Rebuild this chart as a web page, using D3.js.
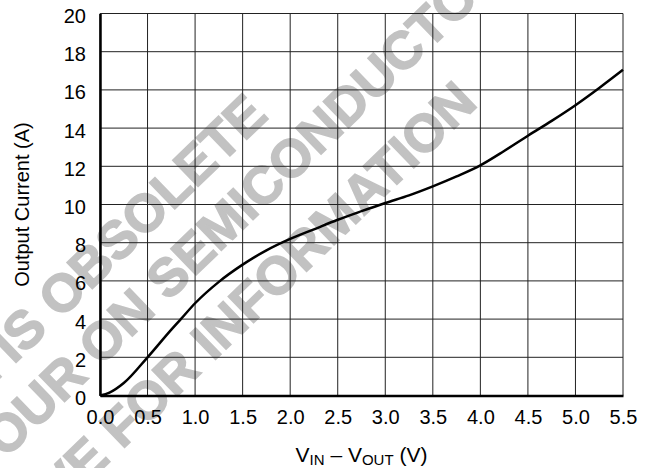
<!DOCTYPE html>
<meta charset="utf-8" />
<html>
<head>
    <script src="https://d3js.org/d3.v7.min.js"></script>
    <style>
        body { margin: 0; background: #fff; }
        svg { display: block; }
        text { font-family: "Liberation Sans", Arial, Helvetica, sans-serif; fill: #000; }
        .grid line { stroke: #222; stroke-width: 1; }
        .wm { font-weight: bold; fill: #c2c2c2; stroke: #c2c2c2; stroke-width: 1.5; }
    </style>
</head>
<body>
<svg width="651" height="468"></svg>
<script>
// data
var vdrop = [0, 0.1, 0.25, 0.5, 0.75, 0.85, 1.0, 1.25, 1.5, 1.75, 2.0, 2.25, 2.5, 2.75, 3.0,
             3.25, 3.5, 3.75, 4.0, 4.25, 4.5, 4.75, 5.0, 5.25, 5.5];
var current = [0, 0.15, 0.65, 2.0, 3.45, 4.0, 4.83, 5.95, 6.85, 7.6, 8.2, 8.7, 9.2, 9.65, 10.08,
               10.48, 10.95, 11.47, 12.05, 12.8, 13.6, 14.38, 15.2, 16.1, 17.05];
var xTicks = [0, 0.5, 1.0, 1.5, 2.0, 2.5, 3.0, 3.5, 4.0, 4.5, 5.0, 5.5];
var yTicks = [0, 2, 4, 6, 8, 10, 12, 14, 16, 18, 20];

// watermark lines (decoration only)
var wmText = ["THIS DEVICE IS OBSOLETE", "CONTACT YOUR ON SEMICONDUCTOR", "REPRESENTATIVE FOR INFORMATION"];
var wmWord = ["OBSOLETE", "SEMICONDUCTOR", "INFORMATION"];

var svg = d3.select("svg");
var margin = {top: 13.5, left: 100, right: 28, bottom: 72.5};
var width = 651 - margin.left - margin.right;
var height = 468 - margin.top - margin.bottom;

// watermark first so the chart sits over it
var wmPos = [[60, 320, -44], [168, 302, -44], [213, 362, -44]];
wmText.forEach(function(t, i) {
    var el = svg.append("text").attr("class", "wm")
        .attr("font-size", 53)
        .attr("transform", "translate(" + wmPos[i][0] + "," + wmPos[i][1] + ") rotate(" + wmPos[i][2] + ")")
        .text(t);
    var idx = t.indexOf(wmWord[i]);
    var pre = el.node().getSubStringLength(0, idx);
    el.attr("x", -pre);
});

var g = svg.append("g").attr("transform", "translate(" + margin.left + "," + margin.top + ")");

var x = d3.scaleLinear().domain([0, 5.5]).range([0, width]);
var y = d3.scaleLinear().domain([0, 20]).range([height, 0]);

// grid
g.append("g").attr("class", "grid")
    .selectAll("line.v").data(xTicks).enter().append("line")
    .attr("x1", function(d) { return x(d); }).attr("x2", function(d) { return x(d); })
    .attr("y1", 0).attr("y2", height);
g.append("g").attr("class", "grid")
    .selectAll("line.h").data(yTicks).enter().append("line")
    .attr("x1", 0).attr("x2", width)
    .attr("y1", function(d) { return y(d); }).attr("y2", function(d) { return y(d); });

// axes
var xAxis = g.append("g")
    .attr("transform", "translate(0," + height + ")")
    .call(d3.axisBottom(x).tickValues(xTicks).tickSize(0).tickFormat(d3.format(".1f")));
xAxis.select(".domain").attr("stroke", "#000").attr("stroke-width", 2.5);
xAxis.selectAll("text").attr("y", 28.5).attr("dy", 0)
    .attr("font-size", 20).attr("font-family", null);

var yAxis = g.append("g")
    .call(d3.axisLeft(y).tickValues(yTicks).tickSize(0));
yAxis.select(".domain").attr("stroke", "#000").attr("stroke-width", 2.5);
yAxis.selectAll("text").attr("x", -14).attr("dy", "0.45em")
    .attr("font-size", 20).attr("font-family", null);

// curve
var line = d3.line()
    .x(function(d, i) { return x(vdrop[i]); })
    .y(function(d) { return y(d); })
    .curve(d3.curveMonotoneX);

g.append("path").datum(current)
    .attr("fill", "none")
    .attr("stroke", "#000")
    .attr("stroke-width", 2.5)
    .attr("d", line);

// axis titles
svg.append("text")
    .attr("transform", "translate(29," + (margin.top + height / 2) + ") rotate(-90)")
    .attr("text-anchor", "middle")
    .attr("font-size", 20)
    .text("Output Current (A)");

var xt = svg.append("text")
    .attr("x", margin.left + width / 2)
    .attr("y", 461.5)
    .attr("text-anchor", "middle")
    .attr("font-size", 21);
xt.append("tspan").text("V");
xt.append("tspan").attr("font-size", 15).attr("dy", 3).text("IN");
xt.append("tspan").attr("dy", -3).text(" \u2013 V");
xt.append("tspan").attr("font-size", 15).attr("dy", 3).text("OUT");
xt.append("tspan").attr("dy", -3).text(" (V)");
</script>
</body>
</html>
